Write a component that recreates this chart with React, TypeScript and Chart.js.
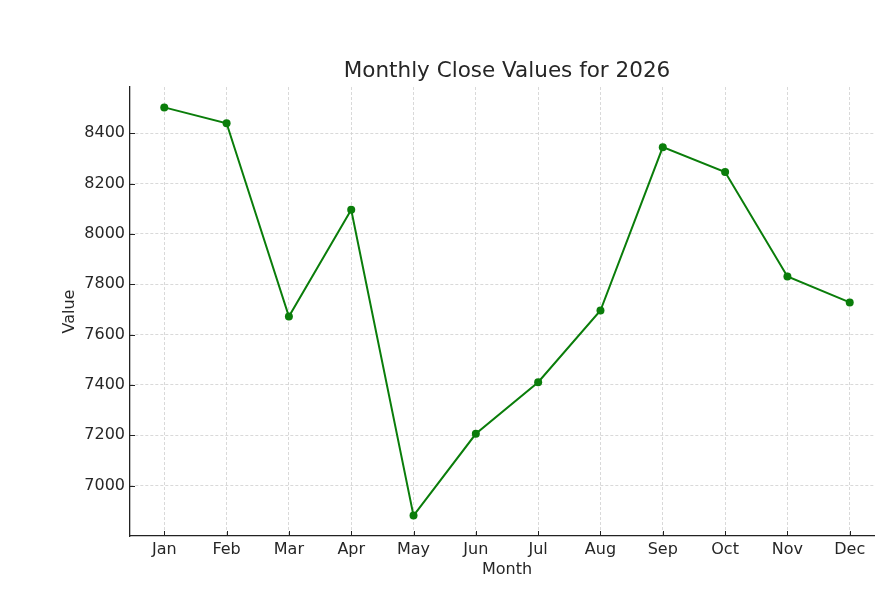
import React, { useEffect, useRef } from "react";
import { Chart, registerables } from "chart.js";

Chart.register(...registerables);

const months = ["Jan", "Feb", "Mar", "Apr", "May", "Jun", "Jul", "Aug", "Sep", "Oct", "Nov", "Dec"];
const closeValues = [8503, 8440, 7672, 8096, 6881, 7206, 7411, 7696, 8345, 8246, 7831, 7728];
const yTicks = [7000, 7200, 7400, 7600, 7800, 8000, 8200, 8400];
const titleText = "Monthly Close Values for 2026";
const xLabel = "Month";
const yLabel = "Value";

const FONT = "'DejaVu Sans', sans-serif";
const TEXT = "#262626";

const titlePlugin = {
  id: "plotTitle",
  afterDraw(chart: any) {
    const { ctx, chartArea } = chart;
    ctx.save();
    ctx.font = `21.5px ${FONT}`;
    ctx.fillStyle = TEXT;
    ctx.textAlign = "center";
    ctx.textBaseline = "middle";
    ctx.fillText(titleText, (chartArea.left + chartArea.right) / 2, 71);
    ctx.restore();
  },
};

const inwardTicks = {
  id: "inwardTicks",
  afterDraw(chart: any) {
    const { ctx, chartArea, scales } = chart;
    ctx.save();
    ctx.strokeStyle = "#222";
    ctx.lineWidth = 1;
    ctx.setLineDash([]);
    ctx.beginPath();
    scales.x.ticks.forEach((t: any) => {
      const px = Math.round(scales.x.getPixelForValue(t.value)) + 0.5;
      ctx.moveTo(px, chartArea.bottom);
      ctx.lineTo(px, chartArea.bottom - 5);
    });
    scales.y.ticks.forEach((t: any) => {
      const py = Math.round(scales.y.getPixelForValue(t.value)) + 0.5;
      ctx.moveTo(chartArea.left, py);
      ctx.lineTo(chartArea.left + 5, py);
    });
    ctx.stroke();
    ctx.restore();
  },
};

export default function App() {
  const ref = useRef<HTMLCanvasElement | null>(null);

  useEffect(() => {
    if (!ref.current) return;
    const chart = new Chart(ref.current, {
      type: "line",
      data: {
        datasets: [
          {
            data: closeValues.map((v, i) => ({ x: i, y: v })),
            borderColor: "#0a7d0a",
            backgroundColor: "#0a7d0a",
            borderWidth: 2,
            pointRadius: 4,
            pointHoverRadius: 4,
            pointBorderWidth: 0,
            tension: 0,
            fill: false,
          },
        ],
      },
      options: {
        responsive: false,
        animation: false,
        events: [],
        layout: { padding: { top: 87, left: 0, right: 16, bottom: 0 } },
        plugins: {
          legend: { display: false },
          title: { display: false },
          tooltip: { enabled: false },
        },
        scales: {
          x: {
            type: "linear",
            min: -0.55,
            max: 11.55,
            afterBuildTicks: (s: any) => {
              s.ticks = months.map((_, i) => ({ value: i }));
            },
            afterFit: (s: any) => {
              s.height = 64;
            },
            ticks: {
              callback: (v: any) => months[v as number] ?? "",
              font: { family: FONT, size: 16 },
              color: TEXT,
              padding: 4,
              maxRotation: 0,
              autoSkip: false,
            },
            grid: {
              color: "#cfcfcf",
              lineWidth: 0.8,
              drawTicks: false,
            },
            border: { display: true, color: "#222", width: 1.3, dash: [3, 2] },
            title: {
              display: true,
              text: xLabel,
              font: { family: FONT, size: 16 },
              color: TEXT,
              padding: { top: 0, bottom: 20.5 },
            },
          },
          y: {
            type: "linear",
            min: 6800,
            max: 8584,
            afterBuildTicks: (s: any) => {
              s.ticks = yTicks.map((v) => ({ value: v }));
            },
            afterFit: (s: any) => {
              s.width = 130;
            },
            ticks: {
              callback: (v: any) => String(v),
              font: { family: FONT, size: 16 },
              color: TEXT,
              padding: 5,
            },
            grid: {
              color: "#cfcfcf",
              lineWidth: 0.8,
              drawTicks: false,
            },
            border: { display: true, color: "#222", width: 1.3, dash: [3, 2] },
            title: {
              display: true,
              text: yLabel,
              font: { family: FONT, size: 16 },
              color: TEXT,
              padding: { top: 60, bottom: 0 },
            },
          },
        },
      },
      plugins: [titlePlugin, inwardTicks],
    });
    return () => chart.destroy();
  }, []);

  return (
    <div
      style={{
        position: "fixed",
        left: 0,
        top: 0,
        width: 875,
        height: 600,
        overflow: "hidden",
        background: "#fff",
      }}
    >
      <canvas ref={ref} width={900} height={600} style={{ display: "block", width: 900, height: 600 }} />
    </div>
  );
}
